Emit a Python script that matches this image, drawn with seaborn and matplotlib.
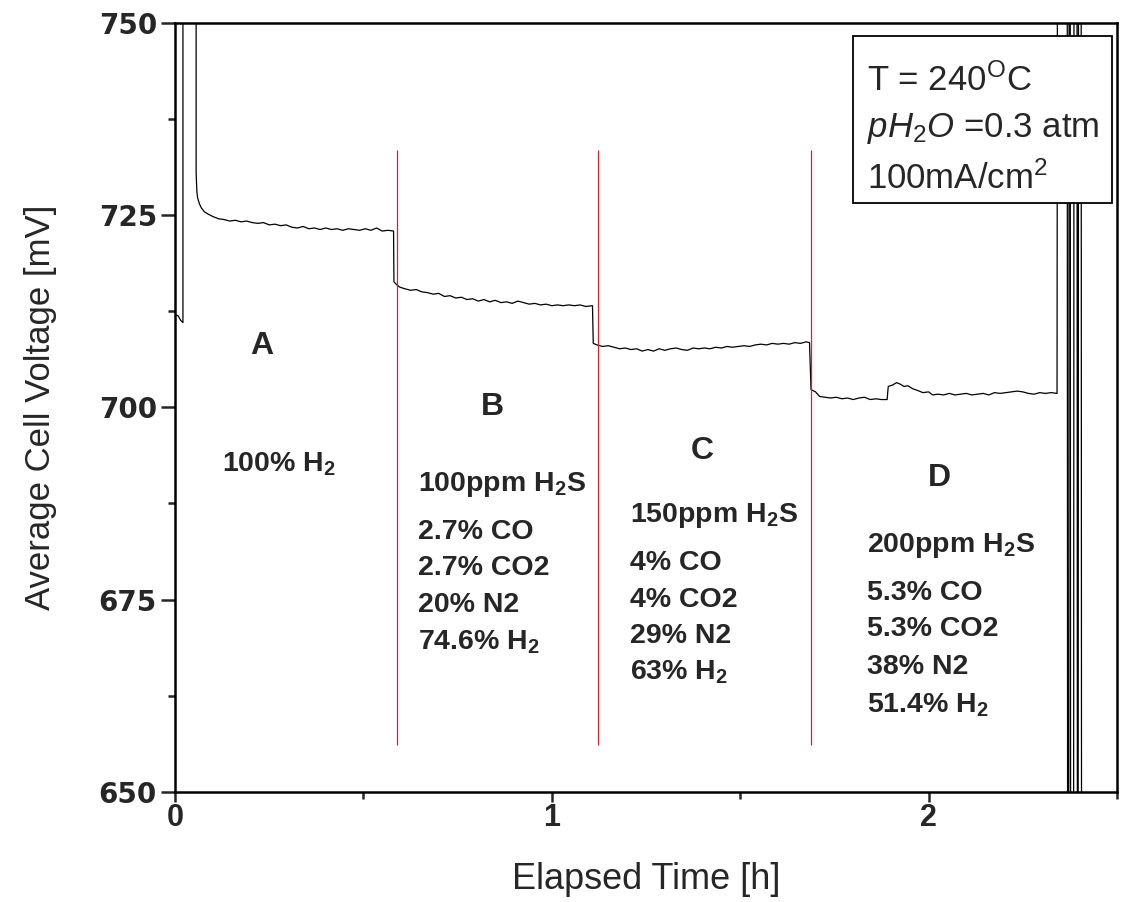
import matplotlib
matplotlib.use("Agg")
import matplotlib.pyplot as plt
from matplotlib.patches import Rectangle
from matplotlib.ticker import MultipleLocator
import seaborn as sns
import pandas as pd

# Cell voltage trace (time in hours, voltage in mV); values beyond the
# axis limits are the off-scale excursions at start-up and shutdown.
time_h = [
    0.000, 0.008, 0.015, 0.021, 0.021, 0.056, 0.056, 0.058, 0.060, 0.065,
    0.070, 0.078, 0.088, 0.100, 0.115, 0.130, 0.145, 0.160, 0.175, 0.190,
    0.205, 0.220, 0.235, 0.250, 0.265, 0.280, 0.295, 0.310, 0.325, 0.340,
    0.355, 0.370, 0.385, 0.400, 0.415, 0.430, 0.445, 0.460, 0.475, 0.490,
    0.505, 0.520, 0.535, 0.550, 0.565, 0.580, 0.581,
    0.589, 0.597, 0.610, 0.625, 0.640, 0.655, 0.670, 0.685, 0.700, 0.715,
    0.730, 0.745, 0.760, 0.775, 0.790, 0.805, 0.820, 0.835, 0.850, 0.865,
    0.880, 0.895, 0.910, 0.925, 0.940, 0.955, 0.970, 0.985, 1.000, 1.015,
    1.030, 1.045, 1.060, 1.075, 1.090, 1.108, 1.110,
    1.120, 1.135, 1.150, 1.165, 1.180, 1.195, 1.210, 1.225, 1.240, 1.255,
    1.270, 1.285, 1.300, 1.315, 1.330, 1.345, 1.360, 1.375, 1.390, 1.405,
    1.420, 1.435, 1.450, 1.465, 1.480, 1.495, 1.510, 1.525, 1.540, 1.555,
    1.570, 1.585, 1.600, 1.615, 1.630, 1.645, 1.660, 1.675, 1.684, 1.686,
    1.688,
    1.700, 1.711, 1.725, 1.740, 1.755, 1.770, 1.785, 1.800, 1.815, 1.830,
    1.845, 1.860, 1.875, 1.890, 1.893, 1.905, 1.915, 1.925, 1.935, 1.945,
    1.958, 1.970, 1.985, 2.000, 2.011, 2.025, 2.040, 2.055, 2.070, 2.085,
    2.100, 2.115, 2.130, 2.145, 2.160, 2.175, 2.190, 2.205, 2.220, 2.235,
    2.250, 2.265, 2.280, 2.295, 2.310, 2.325, 2.341,
    2.342, 2.368, 2.369, 2.372, 2.373, 2.376, 2.377, 2.385, 2.386, 2.394,
    2.395, 2.397, 2.398, 2.405, 2.406,
]
voltage_mv = [
    712.0, 711.9, 711.3, 711.0, 760.0, 760.0, 730.4, 728.0, 727.2, 726.4,
    725.9, 725.4, 725.1, 724.8, 724.5, 724.4, 724.2, 724.3, 724.1, 724.2,
    724.0, 723.9, 724.0, 723.7, 723.8, 723.6, 723.7, 723.4, 723.3, 723.5,
    723.2, 723.3, 723.1, 723.3, 723.1, 723.2, 723.0, 723.2, 723.1, 723.0,
    723.2, 723.0, 723.3, 722.9, 723.0, 722.9, 716.3,
    715.9, 715.6, 715.4, 715.2, 715.3, 715.0, 714.9, 714.7, 714.8, 714.4,
    714.5, 714.2, 714.3, 714.0, 714.1, 713.8, 714.0, 713.7, 713.9, 713.6,
    713.7, 713.5, 713.8, 713.6, 713.4, 713.5, 713.3, 713.4, 713.2, 713.3,
    713.2, 713.3, 713.2, 713.3, 713.1, 713.2, 708.3,
    708.1, 707.9, 708.0, 707.8, 707.6, 707.7, 707.5, 707.6, 707.3, 707.5,
    707.3, 707.6, 707.4, 707.6, 707.7, 707.5, 707.4, 707.7, 707.6, 707.7,
    707.6, 707.8, 707.7, 707.9, 707.8, 707.9, 708.0, 707.9, 708.1, 708.2,
    708.1, 708.3, 708.2, 708.3, 708.2, 708.4, 708.3, 708.5, 708.4, 705.2,
    702.3,
    702.0, 701.4, 701.3, 701.2, 701.3, 701.1, 701.2, 701.0, 701.2, 701.3,
    701.0, 701.1, 701.0, 701.0, 702.7, 702.9, 703.2, 703.0, 702.7, 702.8,
    702.4, 702.2, 701.9, 702.0, 701.6, 701.7, 701.6, 701.8, 701.6, 701.7,
    701.8, 701.6, 701.7, 701.8, 701.6, 701.9, 701.8, 701.9, 702.0, 702.1,
    702.0, 701.8, 701.7, 701.9, 701.8, 701.9, 701.8,
    760.0, 760.0, 640.0, 640.0, 760.0, 760.0, 640.0, 640.0, 760.0, 760.0,
    640.0, 640.0, 760.0, 760.0, 640.0,
]

# Gas-composition switch times (h) and the span of the marker lines (mV)
switch_times = [0.589, 1.122, 1.687]
switch_span = [656.1, 733.4]

# Stage labels and their feed compositions
stage_names = ["A", "B", "C", "D"]
stage_feeds = [
    ["100% H$_2$"],
    ["100ppm H$_2$S", "2.7% CO", "2.7% CO2", "20% N2", "74.6% H$_2$"],
    ["150ppm H$_2$S", "4% CO", "4% CO2", "29% N2", "63% H$_2$"],
    ["200ppm H$_2$S", "5.3% CO", "5.3% CO2", "38% N2", "51.4% H$_2$"],
]
conditions = ["T = 240$^{O}$C", r"$\mathit{pH_{2}O}$ =0.3 atm", "100mA/cm$^{2}$"]

x_ticks = [0, 1, 2]
y_ticks = [650, 675, 700, 725, 750]

sns.set_style("ticks")
plt.rcParams["font.family"] = ["Liberation Sans", "DejaVu Sans"]
plt.rcParams["mathtext.fontset"] = "custom"
plt.rcParams["mathtext.rm"] = "Liberation Sans"
plt.rcParams["mathtext.it"] = "Liberation Sans:italic"
plt.rcParams["mathtext.default"] = "regular"

fig = plt.figure(figsize=(11.22, 9.02), dpi=100)
ax = fig.add_axes([0.156, 0.122, 0.8395, 0.853])

df = pd.DataFrame({"time": time_h, "voltage": voltage_mv})
sns.lineplot(data=df, x="time", y="voltage", sort=False, estimator=None,
             color="black", linewidth=0.9, ax=ax)

ax.vlines(switch_times, switch_span[0], switch_span[1], color="#c8282d", linewidth=0.9)

ax.set_xlim(0, 2.5)
ax.set_ylim(650, 750)
ax.set_xticks(x_ticks)
ax.set_yticks(y_ticks)
ax.xaxis.set_minor_locator(MultipleLocator(0.5))
ax.yaxis.set_minor_locator(MultipleLocator(12.5))
ax.tick_params(which="major", direction="out", length=10, width=1.8)
ax.tick_params(which="minor", direction="out", length=5, width=1.8)
ax.tick_params(axis="x", which="major", length=7, pad=1)
ax.tick_params(axis="y", which="major", pad=3)
for lab in ax.get_xticklabels():
    lab.set_fontsize(22)
    lab.set_fontweight("bold")
    lab.set_family(["Liberation Sans Narrow", "Liberation Sans"])
for lab in ax.get_yticklabels():
    lab.set_fontsize(20)
    lab.set_fontweight("bold")
    lab.set_family(["DejaVu Sans"])
for s in ax.spines.values():
    s.set_linewidth(1.8)
    s.set_color("black")

ax.set_xlabel("Elapsed Time [h]", fontsize=26, labelpad=21)
ax.set_ylabel("Average Cell Voltage [mV]", fontsize=25, labelpad=30)

# Stage letters
letter_pos = [(0.231, 708.0), (0.843, 700.0), (1.398, 694.3), (2.029, 690.8)]
for name, (lx, ly) in zip(stage_names, letter_pos):
    ax.text(lx, ly, name, fontsize=23, fontweight="bold", ha="center", va="center")

# Feed compositions, one line each
feed_x = [0.125, 0.645, 1.207, 1.836]
feed_y = [
    [692.6],
    [689.9, 683.8, 679.1, 674.3, 669.5],
    [685.9, 679.8, 674.9, 670.3, 665.5],
    [682.0, 675.9, 671.2, 666.2, 661.3],
]
for fx, ys, lines in zip(feed_x, feed_y, stage_feeds):
    for fy, txt in zip(ys, lines):
        ax.text(fx, fy, txt, fontsize=20.5, fontweight="bold", ha="left", va="center")

# Operating-conditions box
ax.add_patch(Rectangle((0.72, 0.765), 0.275, 0.218, transform=ax.transAxes,
                       facecolor="white", edgecolor="black", linewidth=1.3, zorder=5))
cond_y = [0.924, 0.862, 0.797]
for cy, txt in zip(cond_y, conditions):
    ax.text(0.735, cy, txt, transform=ax.transAxes, fontsize=25,
            ha="left", va="center", zorder=6)

fig.savefig("out.png", dpi=100)
